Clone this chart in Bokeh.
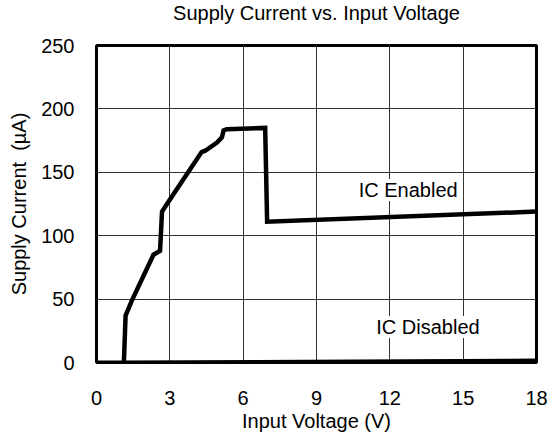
from bokeh.plotting import figure
from bokeh.models import Range1d, FixedTicker, Label, Title
from bokeh.embed import file_html
from bokeh.resources import INLINE

# Data
enabled_v = [1.12, 1.19, 1.45, 2.33, 2.6, 2.68, 2.95, 4.3, 4.45, 4.93, 5.13, 5.2, 5.33, 6.9, 6.98, 18.0]
enabled_i = [0, 37, 49, 85, 88, 119, 127, 166, 167, 173.5, 177.5, 183, 184, 185, 111, 119]
disabled_v = [0.0, 1.0, 18.0]
disabled_i = [0.0, 0.0, 1.5]
x_ticks = [0, 3, 6, 9, 12, 15, 18]
y_ticks = [0, 50, 100, 150, 200, 250]
title_text = "Supply Current vs. Input Voltage"

FONT = "Liberation Sans"
FS = "20px"

p = figure(width=550, height=436, output_backend="svg", toolbar_location=None,
           x_range=Range1d(0, 18), y_range=Range1d(0, 250), title=None,
           min_border_left=96, min_border_right=14, min_border_top=45, min_border_bottom=74)

# two-line title (second line blank) so the visible text sits higher above the frame
p.add_layout(Title(text=title_text + "\n\u00a0", align="center", vertical_align="top",
                   text_font=FONT, text_font_size=FS, text_font_style="normal",
                   text_line_height=0.9, text_color="black", standoff=0), "above")

p.outline_line_color = "black"
p.outline_line_width = 3
p.background_fill_color = "white"
p.border_fill_color = "white"

for ax in (p.xaxis[0], p.yaxis[0]):
    ax.axis_line_color = None
    ax.major_tick_line_color = None
    ax.minor_tick_line_color = None
    ax.major_label_text_font = FONT
    ax.major_label_text_font_size = FS
    ax.major_label_text_color = "black"
    ax.axis_label_text_font = FONT
    ax.axis_label_text_font_size = FS
    ax.axis_label_text_font_style = "normal"
    ax.axis_label_text_color = "black"

p.xaxis.ticker = FixedTicker(ticks=x_ticks)
p.yaxis.ticker = FixedTicker(ticks=y_ticks)
p.xaxis.axis_label = "Input Voltage (V)"
p.yaxis.axis_label = "Supply Current \u00a0(µA)"
p.xaxis.major_label_standoff = 22
p.yaxis.major_label_standoff = 16
p.xaxis.axis_label_standoff = 2
p.yaxis.axis_label_standoff = 8

p.xgrid.grid_line_color = "#333333"
p.ygrid.grid_line_color = "#333333"
p.xgrid.grid_line_width = 1
p.ygrid.grid_line_width = 1

p.line(disabled_v, disabled_i, line_color="black", line_width=4)
p.line(enabled_v, enabled_i, line_color="black", line_width=4.5, line_join="miter")

p.add_layout(Label(x=12.75, y=136, text="IC Enabled", text_font=FONT, text_font_size=FS,
                   text_align="center", text_baseline="middle", text_color="black",
                   background_fill_color="white"))
p.add_layout(Label(x=13.56, y=28, text="IC Disabled", text_font=FONT, text_font_size=FS,
                   text_align="center", text_baseline="middle", text_color="black",
                   background_fill_color="white"))

open("out.html", "w").write(file_html(p, INLINE))
